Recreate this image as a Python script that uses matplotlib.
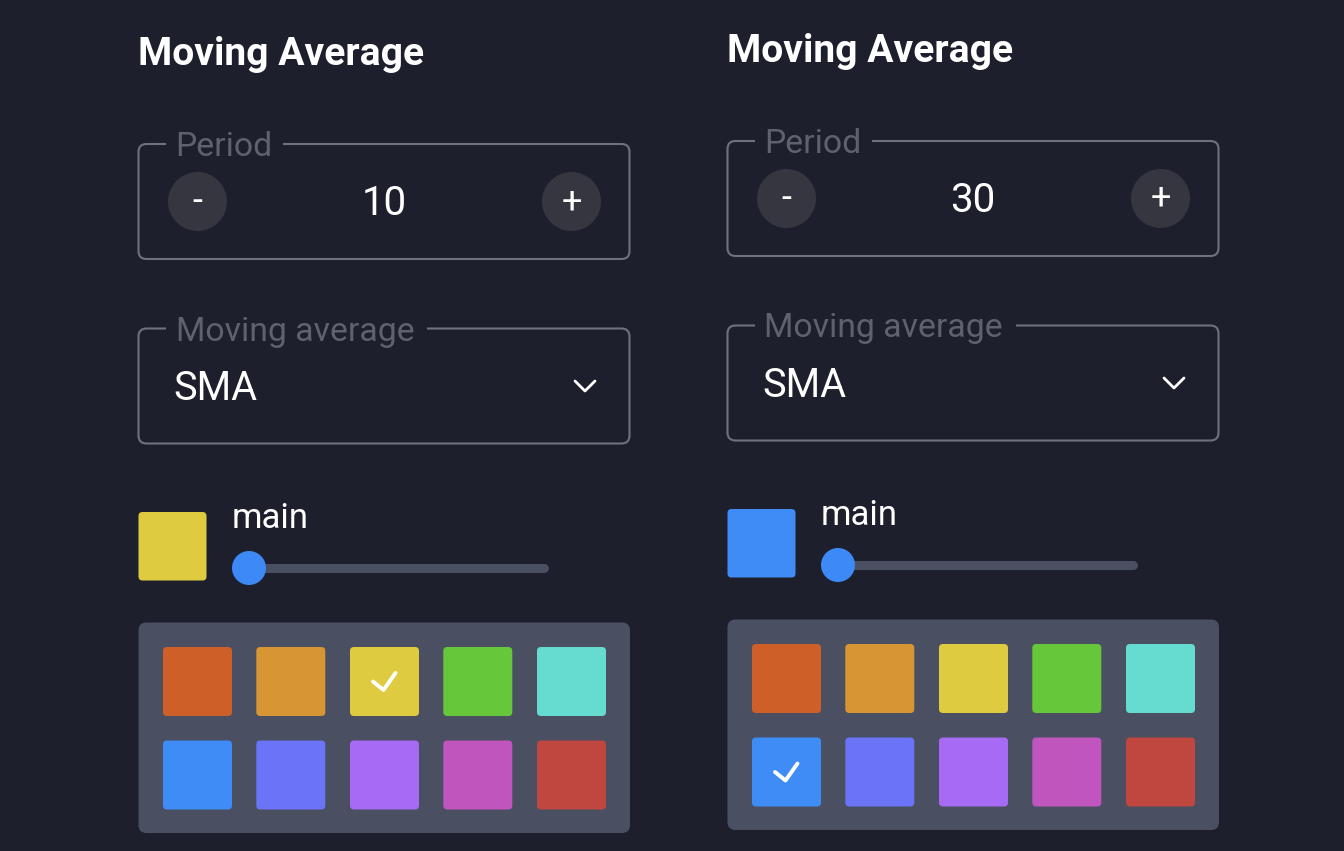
import matplotlib
matplotlib.use("Agg")
import matplotlib.pyplot as plt
from matplotlib.patches import FancyBboxPatch, Circle, Rectangle

plt.rcParams['font.family'] = ['Roboto', 'DejaVu Sans']

# 데이터
titles = ["Moving Average", "Moving Average"]
periods = [10, 30]
ma_types = ["SMA", "SMA"]
line_names = ["main", "main"]
slider_values = [0, 0]          # 0..1 위치
palette = ["#cf5f29", "#d79633", "#dfcb40", "#67c73b", "#66dbd0",
           "#3f8cf7", "#6b74f7", "#a66af5", "#bf55bd", "#c04740"]
selected = [2, 5]               # 선택된 색 인덱스
offsets = [(0, 0), (589, -3)]   # 패널 위치 (px)

bg = "#1e1f2d"
border = "#6f717d"
label_col = "#5f616e"
btn_col = "#35363f"
panel_col = "#4a4f62"
knob_col = "#3d8af7"

fig = plt.figure(figsize=(13.44, 8.51), dpi=100, facecolor=bg)
ax = fig.add_axes([0, 0, 1, 1])
ax.set_xlim(0, 1344)
ax.set_ylim(851, 0)
ax.set_facecolor(bg)
ax.axis('off')


def rbox(x0, y0, x1, y1, r, **kw):
    p = FancyBboxPatch((x0, y0), x1 - x0, y1 - y0,
                       boxstyle="round,pad=0,rounding_size=%g" % r, **kw)
    ax.add_patch(p)
    return p


def outlined_field(x0, y0, x1, y1, label, gap_end):
    rbox(x0, y0, x1, y1, 8, facecolor='none', edgecolor=border, lw=1.5)
    # 라벨 자리만큼 윗선을 지움
    ax.add_patch(Rectangle((x0 + 27, y0 - 3), gap_end - x0 - 27, 6,
                           facecolor=bg, edgecolor='none', zorder=2))
    ax.text(x0 + 37, y0 + 12, label, color=label_col, fontsize=24.3,
            va='baseline', ha='left', zorder=3)


for i in range(2):
    dx, dy = offsets[i]

    # 제목
    ax.text(138 + dx, 65 + dy, titles[i], color='white', fontsize=28.1,
            fontweight='bold', va='baseline', ha='left')

    # Period 입력
    outlined_field(138.5 + dx, 144 + dy, 629.5 + dx, 259 + dy, "Period", 283 + dx)
    for cx, sign in [(197.5, "-"), (571.5, "+")]:
        ax.add_patch(Circle((cx + dx, 201.5 + dy), 29.5, facecolor=btn_col,
                            edgecolor='none'))
        ax.text(cx + dx, 202 + dy, sign, color='white', fontsize=26,
                ha='center', va='center')
    ax.text(384 + dx, 215 + dy, str(periods[i]), color='white', fontsize=29,
            ha='center', va='baseline')

    # Moving average 선택
    outlined_field(138.5 + dx, 328.5 + dy, 629.5 + dx, 443.5 + dy,
                   "Moving average", 427 + dx)
    ax.text(173 + dx, 400 + dy, ma_types[i], color='white', fontsize=28.5,
            ha='left', va='baseline')
    ax.plot([575 + dx, 585 + dx, 595 + dx], [381 + dy, 391 + dy, 381 + dy],
            color='white', lw=2, solid_capstyle='round', solid_joinstyle='round')

    # 현재 색 + 슬라이더
    rbox(138.5 + dx, 512 + dy, 206.5 + dx, 580.5 + dy, 4,
         facecolor=palette[selected[i]], edgecolor='none')
    ax.text(232 + dx, 528 + dy, line_names[i], color='white', fontsize=25,
            ha='left', va='baseline')
    x_start, x_end = 249 + dx, 544 + dx
    ax.plot([x_start, x_end], [568 + dy, 568 + dy], color=panel_col, lw=6.5,
            solid_capstyle='round')
    kx = x_start + slider_values[i] * (x_end - x_start)
    ax.add_patch(Circle((kx, 568 + dy), 17, facecolor=knob_col,
                        edgecolor='none', zorder=3))

    # 색 팔레트
    rbox(138.5 + dx, 622.5 + dy, 630 + dx, 833 + dy, 8,
         facecolor=panel_col, edgecolor='none')
    col_x = [163, 256.3, 350, 443.3, 537]
    row_y = [647, 740.5]
    for k, c in enumerate(palette):
        x0 = col_x[k % 5] + dx
        y0 = row_y[k // 5] + dy
        rbox(x0, y0, x0 + 69, y0 + 69, 4, facecolor=c, edgecolor='none')
        if k == selected[i]:
            ax.plot([x0 + 23, x0 + 33.5, x0 + 45.5],
                    [y0 + 34.5, y0 + 43, y0 + 26],
                    color='white', lw=2.8, solid_capstyle='round',
                    solid_joinstyle='round', zorder=4)

fig.savefig("out.png", dpi=100, facecolor=bg)
